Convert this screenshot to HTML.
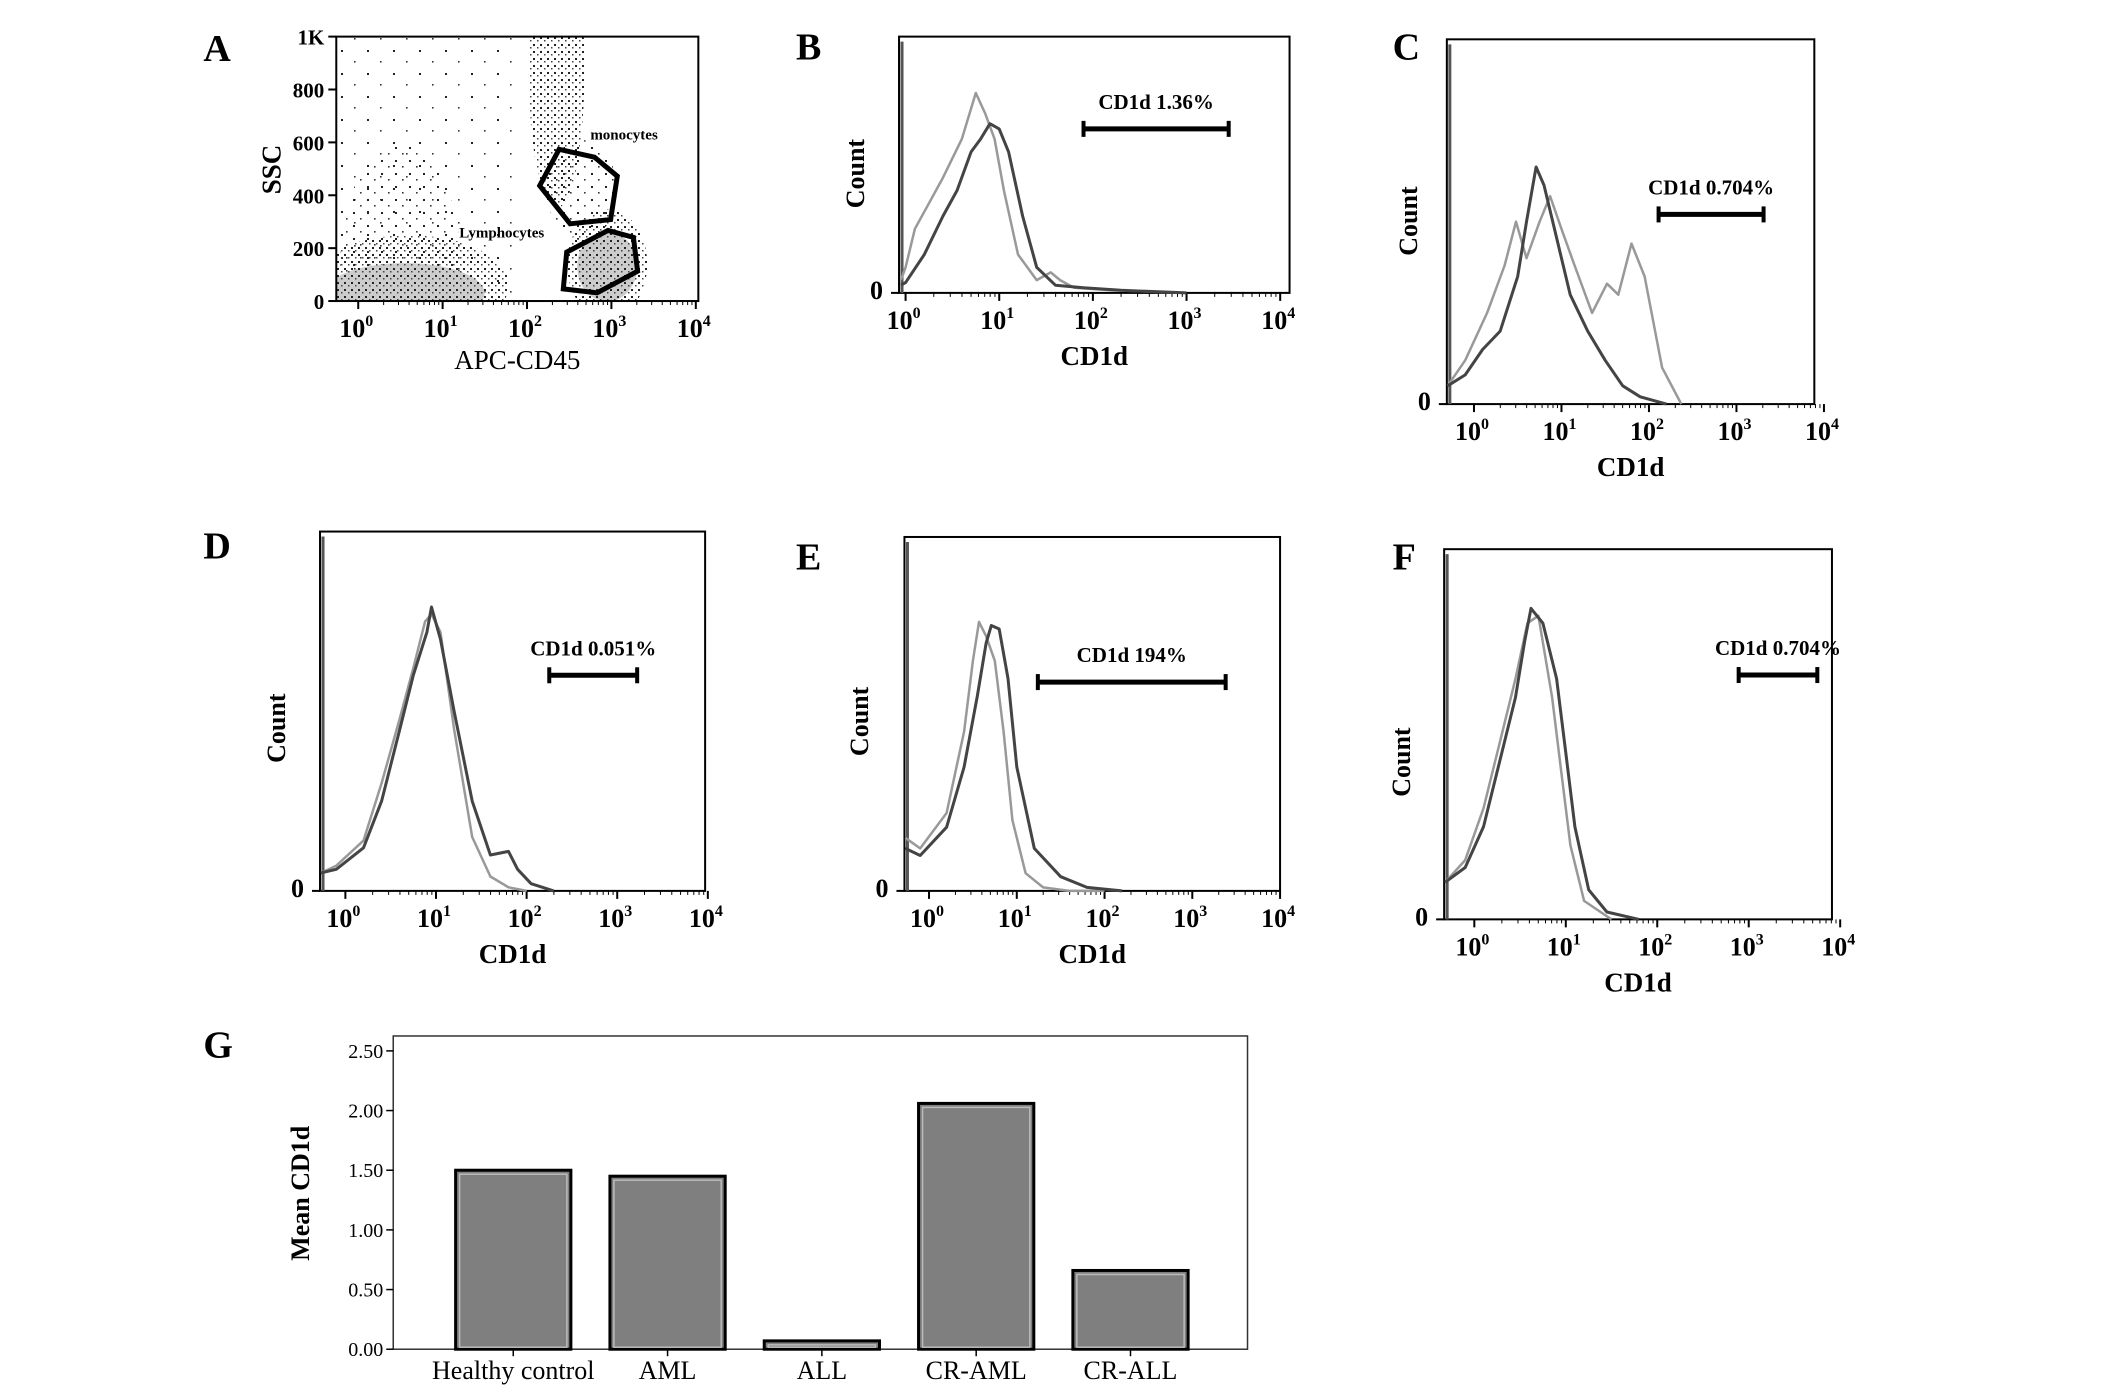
<!DOCTYPE html>
<html><head><meta charset="utf-8">
<style>
html,body{margin:0;padding:0;background:#fff;}
svg{display:block;font-family:"Liberation Serif",serif;}
</style></head>
<body>
<svg id="fig" width="2125" height="1396" viewBox="0 0 2125 1396" xmlns="http://www.w3.org/2000/svg">
<defs>
<pattern id="stip" width="7" height="7" patternUnits="userSpaceOnUse">
<rect x="1" y="2" width="2" height="2" fill="#222"/><rect x="5" y="5" width="1.5" height="1.5" fill="#444"/>
</pattern>
<pattern id="stip2" width="14" height="13" patternUnits="userSpaceOnUse">
<rect x="3" y="4" width="2" height="2" fill="#222"/><rect x="10" y="10" width="1.6" height="1.6" fill="#333"/>
</pattern>
<pattern id="stip3" width="26" height="23" patternUnits="userSpaceOnUse">
<rect x="3" y="4" width="2" height="2" fill="#222"/><rect x="16" y="15" width="1.6" height="1.6" fill="#333"/>
</pattern>
</defs>
<g id="root"></g>
</svg>
<script>
const S = 1.356;
const NS = "http://www.w3.org/2000/svg";
const root = document.getElementById('root');
function el(tag, attrs, parent, txt){
  const e = document.createElementNS(NS, tag);
  for (const k in attrs) e.setAttribute(k, attrs[k]);
  if (txt !== undefined) e.textContent = txt;
  (parent||root).appendChild(e);
  return e;
}

// ---------- Histogram panel data (log10 x, fraction of box height) ----------
const panelLetters = ["B","C","D","E","F"];
const histBoxes = {B:[663,27,951,216],C:[1067,29,1338,298],D:[236,392,520,657],E:[667,396,944,657],F:[1065,405,1351,678]};
const histXmin = {B:-0.07,C:-0.31,D:-0.28,E:-0.28,F:-0.33};
const histXmax = {B:4.1,C:3.89,D:3.97,E:4.0,F:3.91};
const gateLabels = {B:"CD1d 1.36%",C:"CD1d 0.704%",D:"CD1d 0.051%",E:"CD1d 194%",F:"CD1d 0.704%"};
const gateFrom = {B:1.9,C:2.11,D:2.25,E:1.24,F:2.89};
const gateTo = {B:3.45,C:3.31,D:3.22,E:3.38,F:3.75};
const gateY = {B:0.64,C:0.52,D:0.60,E:0.59,F:0.66};

const darkX = {
 B:[-0.05,0.0,0.2,0.4,0.55,0.7,0.8,0.9,1.0,1.1,1.25,1.4,1.6,1.9,2.3,3.0],
 C:[-0.3,-0.1,0.1,0.3,0.5,0.6,0.71,0.8,0.95,1.1,1.3,1.5,1.7,1.9,2.2],
 D:[-0.27,-0.1,0.2,0.4,0.6,0.75,0.9,0.95,1.05,1.2,1.4,1.6,1.8,1.9,2.05,2.3],
 E:[-0.27,-0.1,0.2,0.4,0.55,0.65,0.71,0.8,0.9,1.0,1.2,1.5,1.8,2.2],
 F:[-0.32,-0.1,0.1,0.3,0.45,0.55,0.62,0.75,0.9,1.0,1.1,1.25,1.45,1.8]
};
const darkY = {
 B:[0.03,0.04,0.15,0.3,0.4,0.55,0.6,0.66,0.64,0.55,0.3,0.1,0.03,0.02,0.01,0.0],
 C:[0.05,0.08,0.15,0.2,0.35,0.5,0.65,0.6,0.45,0.3,0.2,0.12,0.05,0.02,0.0],
 D:[0.05,0.06,0.12,0.25,0.45,0.6,0.72,0.79,0.7,0.5,0.25,0.1,0.11,0.06,0.02,0.0],
 E:[0.12,0.1,0.18,0.35,0.55,0.7,0.75,0.74,0.6,0.35,0.12,0.04,0.01,0.0],
 F:[0.1,0.14,0.25,0.45,0.6,0.75,0.84,0.8,0.65,0.45,0.25,0.08,0.02,0.0]
};
const lightX = {
 B:[-0.05,0.0,0.1,0.25,0.4,0.6,0.75,0.85,0.95,1.05,1.2,1.4,1.55,1.65,1.8,2.2,3.0],
 C:[-0.3,-0.1,0.15,0.35,0.48,0.6,0.75,0.87,1.0,1.15,1.35,1.52,1.65,1.8,1.95,2.15,2.37],
 D:[-0.27,-0.1,0.2,0.4,0.6,0.75,0.88,0.95,1.05,1.2,1.4,1.6,1.8,2.0],
 E:[-0.27,-0.1,0.2,0.4,0.5,0.57,0.65,0.75,0.85,0.95,1.1,1.3,1.6,2.0],
 F:[-0.32,-0.1,0.1,0.3,0.45,0.58,0.7,0.85,0.95,1.05,1.2,1.5]
};
const lightY = {
 B:[0.05,0.1,0.25,0.35,0.45,0.6,0.78,0.7,0.6,0.4,0.15,0.05,0.08,0.05,0.02,0.01,0.0],
 C:[0.05,0.12,0.25,0.38,0.5,0.4,0.5,0.57,0.48,0.38,0.25,0.33,0.3,0.44,0.35,0.1,0.0],
 D:[0.05,0.07,0.14,0.3,0.48,0.62,0.75,0.77,0.72,0.45,0.15,0.04,0.01,0.0],
 E:[0.15,0.12,0.22,0.45,0.65,0.76,0.72,0.65,0.45,0.2,0.05,0.01,0.0,0.0],
 F:[0.1,0.16,0.3,0.5,0.65,0.8,0.82,0.6,0.4,0.2,0.05,0.0]
};
const countLabelPos = {B:[637,128],C:[1045,163],D:[210,537],E:[640,532],F:[1040,562]};
const letterPos = {A:[150,45],B:[587,44],C:[1027,44],D:[150,412],E:[587,420],F:[1027,420],G:[150,780]};

// ---------- Panel G data ----------
const gCats = ["Healthy control","AML","ALL","CR-AML","CR-ALL"];
const gVals = [1.50,1.45,0.07,2.06,0.66];
const gTicks = [0,0.5,1,1.5,2,2.5];
const gTickLabels = ["0.00","0.50","1.00","1.50","2.00","2.50"];

// ---------- Panel A data (log10 CD45, SSC) ----------
const aYTicks = [0,200,400,600,800,1000];
const aYTickLabels = ["0","200","400","600","800","1K"];
const monoGateX = [2.15,2.38,2.80,3.07,2.99,2.51];
const monoGateY = [436,574,544,472,308,292];
const lymphGateX = [2.47,2.96,3.26,3.31,2.83,2.43];
const lymphGateY = [185,267,241,113,31,46];

for (const k in letterPos){
  const t = el('text',{x:letterPos[k][0]*S,y:letterPos[k][1]*S,'font-size':38,'font-weight':'bold'},root,k);
  
  
}

function logTicks(g, x0, y0, x1, y1, xs){
  for (let d=0; d<=4; d++){
    const x = xs(d);
    el('line',{x1:x,y1:y1,x2:x,y2:y1+8,stroke:'#000','stroke-width':2},g);
    for (let m=2;m<10 && d<4;m++){
      const xm = xs(d+Math.log10(m));
      el('line',{x1:xm,y1:y1,x2:xm,y2:y1+4,stroke:'#000','stroke-width':1},g);
    }
    const t = el('text',{x:x-2,y:y1+36,'font-size':26,'font-weight':'bold','text-anchor':'middle'},g);
    
    
    t.appendChild(document.createTextNode('10'));
    el('tspan',{'font-size':16,dy:-11},t,String(d));
  }
}

for (const p of panelLetters){
  const b = histBoxes[p];
  const x0=b[0]*S,y0=b[1]*S,x1=b[2]*S,y1=b[3]*S;
  const g = el('g',{});
  
  
  const xs = v => x0 + (v-histXmin[p])/(histXmax[p]-histXmin[p])*(x1-x0);
  const ys = f => y1 - f*(y1-y0);
  el('rect',{x:x0,y:y0,width:x1-x0,height:y1-y0,fill:'none',stroke:'#000','stroke-width':2},g);
  logTicks(g,x0,y0,x1,y1,xs);
  const z = el('text',{x:x0-16,y:y1+6,'font-size':26,'font-weight':'bold','text-anchor':'end'},g,'0');
   
  el('line',{x1:x0-8,y1:y1,x2:x0,y2:y1,stroke:'#000','stroke-width':2},g);
  el('line',{x1:x0+3,y1:y1,x2:x0+3,y2:y0+5,stroke:'#555','stroke-width':3},g);
  const cl = countLabelPos[p];
  const ct = el('text',{x:cl[0]*S,y:cl[1]*S,'font-size':26,'font-weight':'bold','text-anchor':'middle',transform:`rotate(-90 ${cl[0]*S} ${cl[1]*S})`},g,'Count');
   
  const xt = el('text',{x:(x0+x1)/2,y:y1+72,'font-size':27,'font-weight':'bold','text-anchor':'middle'},g,'CD1d');
   
  const lp = lightX[p].map((v,i)=>xs(v).toFixed(1)+','+ys(lightY[p][i]).toFixed(1)).join(' ');
  const lc = el('polyline',{points:lp,fill:'none',stroke:'#999','stroke-width':2.5,'stroke-linejoin':'round'},g);
   
  const dp = darkX[p].map((v,i)=>xs(v).toFixed(1)+','+ys(darkY[p][i]).toFixed(1)).join(' ');
  const dc = el('polyline',{points:dp,fill:'none',stroke:'#444','stroke-width':3,'stroke-linejoin':'round'},g);
   
  const gx0=xs(gateFrom[p]), gx1=xs(gateTo[p]), gy=ys(gateY[p]);
  const gl = el('g',{},g);
   
  el('line',{x1:gx0,y1:gy,x2:gx1,y2:gy,stroke:'#000','stroke-width':5},gl);
  el('line',{x1:gx0,y1:gy-8,x2:gx0,y2:gy+8,stroke:'#000','stroke-width':4},gl);
  el('line',{x1:gx1,y1:gy-8,x2:gx1,y2:gy+8,stroke:'#000','stroke-width':4},gl);
  const tl = el('text',{x:(gx0+gx1)/2,y:gy-20,'font-size':21,'font-weight':'bold','text-anchor':'middle'},gl,gateLabels[p]);
   
}

// Panel A
(function(){
  const x0=248*S,y0=27*S,x1=515*S,y1=222*S;
  const xmin=-0.26,xmax=4.03;
  const xs = v => x0+(v-xmin)/(xmax-xmin)*(x1-x0);
  const ys = v => y1-(v/1000)*(y1-y0);
  const g = el('g',{});
   
  const cp = el('clipPath',{id:'clipA'},g);
  el('rect',{x:x0,y:y0,width:x1-x0,height:y1-y0},cp);
  const cg = el('g',{'clip-path':'url(#clipA)'},g);
  el('rect',{x:x0,y:y0,width:(x1-x0)*0.5,height:y1-y0,fill:'url(#stip3)'},cg);
  el('ellipse',{cx:xs(0.5),cy:ys(140),rx:60,ry:120,fill:'url(#stip2)'},cg);
  el('ellipse',{cx:xs(0.55),cy:ys(30),rx:80,ry:30,fill:'#ccc'},cg);
  el('ellipse',{cx:xs(0.6),cy:ys(60),rx:100,ry:50,fill:'url(#stip)'},cg);
  el('ellipse',{cx:xs(2.35),cy:ys(880),rx:28,ry:140,fill:'url(#stip)'},cg);
  el('ellipse',{cx:xs(2.95),cy:ys(130),rx:30,ry:35,fill:'#ccc'},cg);
  el('ellipse',{cx:xs(2.95),cy:ys(140),rx:40,ry:55,fill:'url(#stip)'},cg);
  el('ellipse',{cx:xs(2.65),cy:ys(420),rx:35,ry:50,fill:'url(#stip2)'},cg);
  el('rect',{x:x0,y:y0,width:x1-x0,height:y1-y0,fill:'none',stroke:'#000','stroke-width':2},g);
  logTicks(g,x0,y0,x1,y1,xs);
  aYTicks.forEach((v,i)=>{
    el('line',{x1:x0-8,y1:ys(v),x2:x0,y2:ys(v),stroke:'#000','stroke-width':2},g);
    const t = el('text',{x:x0-12,y:ys(v)+8,'font-size':21,'font-weight':'bold','text-anchor':'end'},g,aYTickLabels[i]);
     
  });
  const m = el('polygon',{points:monoGateX.map((v,i)=>xs(v).toFixed(1)+','+ys(monoGateY[i]).toFixed(1)).join(' '),fill:'none',stroke:'#000','stroke-width':5},g);
   
  const l = el('polygon',{points:lymphGateX.map((v,i)=>xs(v).toFixed(1)+','+ys(lymphGateY[i]).toFixed(1)).join(' '),fill:'none',stroke:'#000','stroke-width':5},g);
   
  const t1 = el('text',{x:xs(3.15),y:ys(610),'font-size':15,'font-weight':'bold','text-anchor':'middle'},g,'monocytes');
   
  const t2 = el('text',{x:xs(1.7),y:ys(240),'font-size':15,'font-weight':'bold','text-anchor':'middle'},g,'Lymphocytes');
   
  const yt = el('text',{x:207*S,y:125*S,'font-size':27,'font-weight':'bold','text-anchor':'middle',transform:`rotate(-90 ${207*S} ${125*S})`},g,'SSC');
   
  const xt = el('text',{x:(x0+x1)/2,y:y1+68,'font-size':27,'text-anchor':'middle'},g,'APC-CD45');
   
})();

// Panel G
(function(){
  const x0=290*S,y0=764*S,x1=920*S,y1=995*S,yTop=775*S;
  const ys = v => y1 - v/2.5*(y1-yTop);
  const g = el('g',{});
   
  el('rect',{x:x0,y:y0,width:x1-x0,height:y1-y0,fill:'none',stroke:'#333','stroke-width':1.5},g);
  gTicks.forEach((v,i)=>{
    el('line',{x1:x0-7,y1:ys(v),x2:x0,y2:ys(v),stroke:'#000','stroke-width':1.5},g);
    const t = el('text',{x:x0-10,y:ys(v)+7,'font-size':20,'text-anchor':'end'},g,gTickLabels[i]);
     
  });
  const step = 113.8*S, first = 378.5*S, bw = 85*S;
  gCats.forEach((c,i)=>{
    const cx = first + i*step;
    const r = el('rect',{x:cx-bw/2,y:ys(gVals[i]),width:bw,height:y1-ys(gVals[i]),fill:'#7f7f7f',stroke:'#000','stroke-width':3},g);
     
    el('rect',{x:cx-bw/2+4,y:ys(gVals[i])+4,width:bw-8,height:Math.max(0,y1-ys(gVals[i])-6),fill:'none',stroke:'#bbb','stroke-width':1.5},g);
    el('line',{x1:cx,y1:y1,x2:cx,y2:y1+7,stroke:'#000','stroke-width':1.5},g);
    const t = el('text',{x:cx,y:y1+30,'font-size':26,'text-anchor':'middle'},g,c);
     
  });
  const yt = el('text',{x:228*S,y:880*S,'font-size':26,'font-weight':'bold','text-anchor':'middle',transform:`rotate(-90 ${228*S} ${880*S})`},g,'Mean CD1d');
   
})();
</script>
</body></html>
